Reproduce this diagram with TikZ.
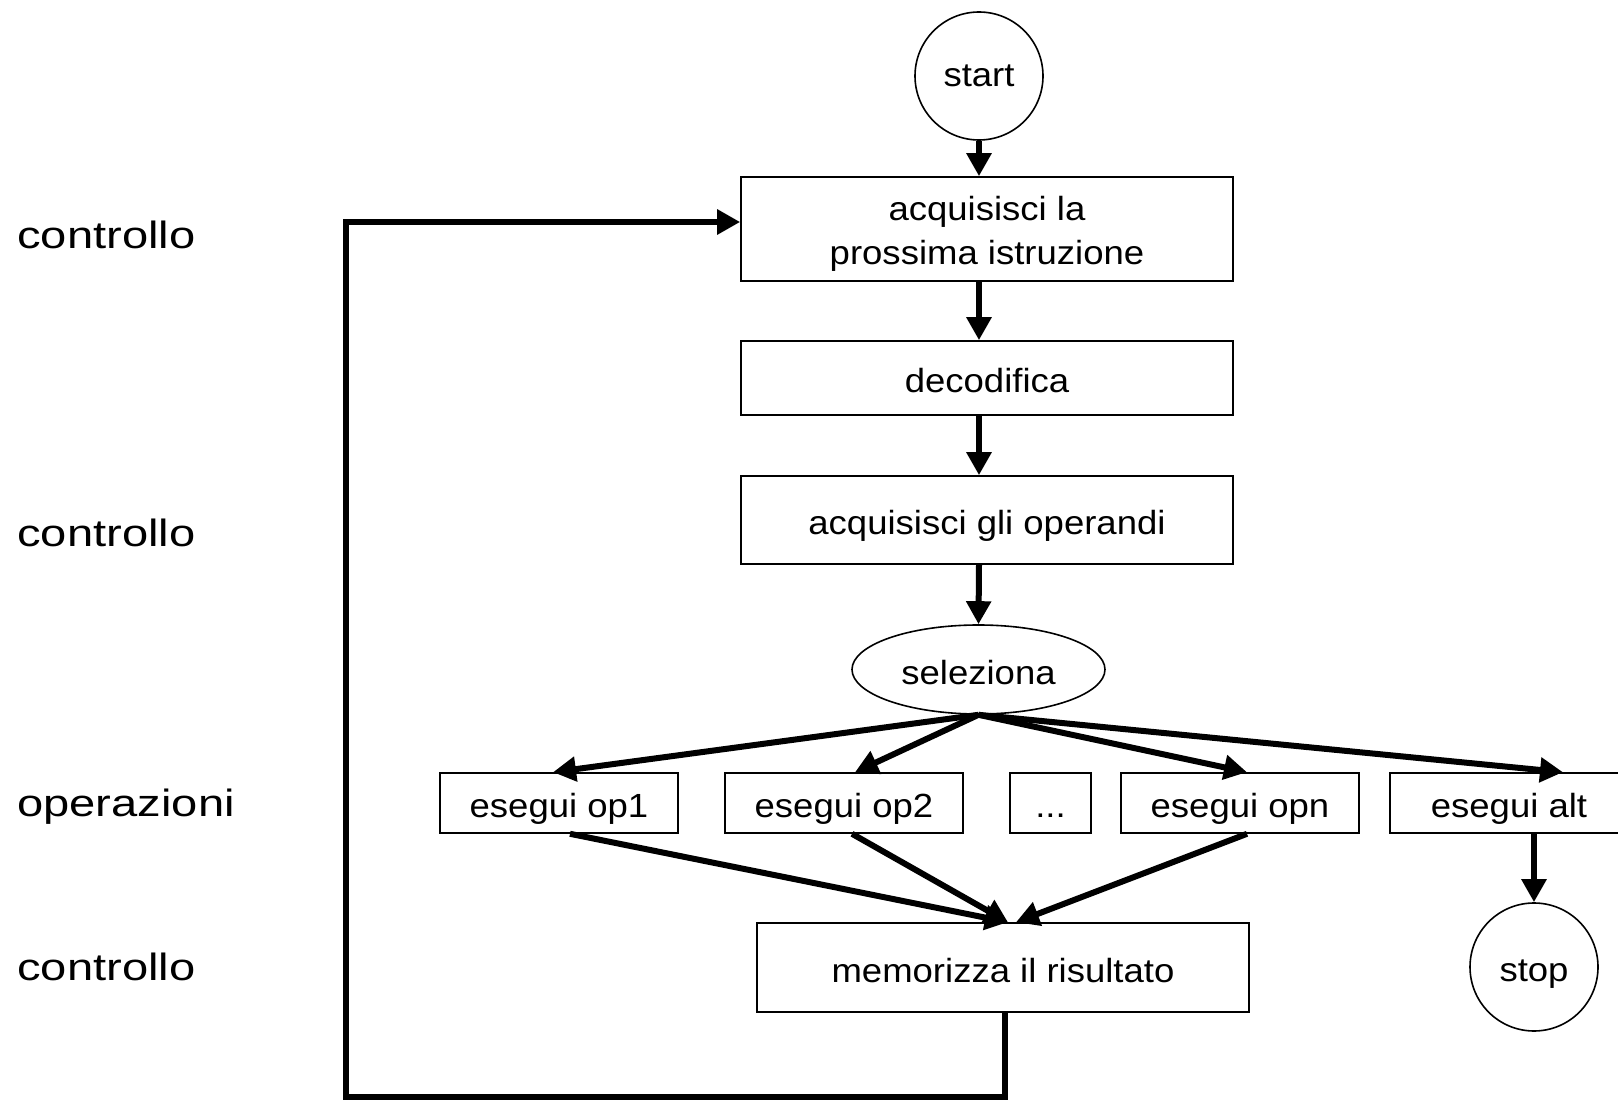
\documentclass[tikz,border=0pt]{standalone}
\usepackage{fontspec}
\setmainfont{Liberation Sans}[FakeStretch=1.09]
\newfontfamily\sidefont{Liberation Sans}[FakeStretch=1.24]
\usetikzlibrary{arrows.meta,shapes.geometric}
\begin{document}
\begin{tikzpicture}[x=0.5pt,y=-0.5pt,
  every node/.style={font=\fontsize{16.75}{21.75}\selectfont},
  oneline/.style={text height=14.6pt, text depth=0pt},
  stepbox/.style={draw, line width=0.8pt, inner sep=0pt, align=center},
  terminal/.style={circle, draw, line width=0.8pt, inner sep=0pt, minimum size=64pt},
  chooser/.style={ellipse, draw, line width=0.8pt, inner sep=0pt, minimum width=126.5pt, minimum height=44.5pt},
  phase/.style={anchor=base west, inner sep=0pt, font=\sidefont\fontsize{19}{22}\selectfont},
  flow/.style={line width=3pt, -{Triangle[length=11.5pt,width=12pt]}}]
\useasboundingbox (0,0) rectangle (1618,1101);

% phase labels on the left
\node[phase] (p1) at (17,249) {controllo};
\node[phase] (p2) at (17,547) {controllo};
\node[phase] (p3) at (17,816) {operazioni};
\node[phase] (p4) at (17,980) {controllo};

% main column
\node[terminal] (start) at (979,76) {start};
\node[stepbox, minimum width=246pt, minimum height=52pt] (fetch) at (987,229) {\rule{0pt}{17.2pt}acquisisci la\\prossima istruzione};
\node[stepbox, oneline, minimum width=246pt, minimum height=37pt] (decode) at (987,378) {decodifica};
\node[stepbox, oneline, minimum width=246pt, minimum height=44pt] (operands) at (987,520) {acquisisci gli operandi};
\node[chooser, oneline] (sel) at (978.5,669.5) {seleziona};

% operation row
\node[stepbox, oneline, minimum width=119pt, minimum height=30pt] (op1) at (559,803) {esegui op1};
\node[stepbox, oneline, minimum width=119pt, minimum height=30pt] (op2) at (844,803) {esegui op2};
\node[stepbox, oneline, minimum width=40.5pt, minimum height=30pt] (dots) at (1050.5,803) {...};
\node[stepbox, oneline, minimum width=119pt, minimum height=30pt] (opn) at (1240,803) {esegui opn};
\node[stepbox, oneline, minimum width=119pt, minimum height=30pt] (alt) at (1509,803) {esegui alt};

\node[stepbox, oneline, minimum width=246pt, minimum height=44.5pt] (store) at (1003,967.5) {memorizza il risultato};
\node[terminal, oneline] (stop) at (1534,967) {stop};

% vertical flow
\draw[flow] (start.south) -- (start.south |- fetch.north);
\draw[flow] (fetch.south -| start) -- (decode.north -| start);
\draw[flow] (decode.south -| start) -- (operands.north -| start);
\draw[flow] (operands.south -| start) -- (sel.north);

% branches of the selection
\draw[flow] (sel.south) -- ([xshift=-3pt]op1.north);
\draw[flow] (sel.south) -- ([xshift=5.5pt]op2.north);
\draw[flow] (sel.south) -- ([xshift=3.5pt]opn.north);
\draw[flow] (sel.south) -- ([xshift=27pt]alt.north);

% results merge into the store step
\draw[flow] ([xshift=5.5pt]op1.south) -- ([xshift=2.5pt]store.north);
\draw[flow] ([xshift=4pt]op2.south) -- ([xshift=2.5pt]store.north);
\draw[flow] ([xshift=3.5pt]opn.south) -- ([xshift=6.5pt]store.north);

\draw[flow] (alt.south -| stop) -- (stop.north);

% loop back to the fetch step
\coordinate (loopbottom) at (346,1097);
\coordinate (looptop) at (346,222);
\draw[flow] ([xshift=1pt]store.south) |- (loopbottom) -- (looptop) -- ([yshift=3.5pt]fetch.west);
\end{tikzpicture}
\end{document}
